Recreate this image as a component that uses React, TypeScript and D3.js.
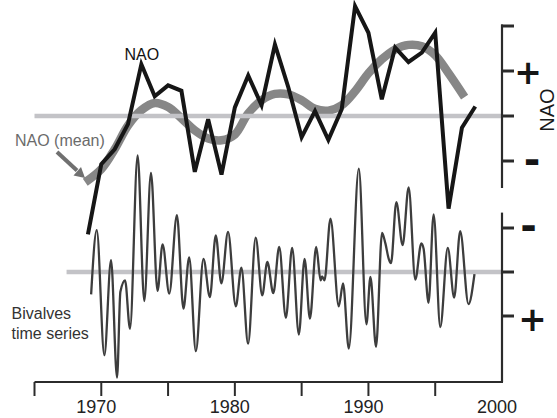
import React from 'react';
import * as d3 from 'd3';

const WIDTH = 557;
const HEIGHT = 418;

// winter NAO index, one value per year
const naoYears = [1969, 1970, 1971, 1972, 1973, 1974, 1975, 1976, 1977, 1978, 1979, 1980, 1981, 1982, 1983, 1984, 1985, 1986, 1987, 1988, 1989, 1990, 1991, 1992, 1993, 1994, 1995, 1996, 1997, 1998];
const naoValues = [-2.63, -1.07, -0.74, -0.18, 1.15, 0.44, 0.68, 0.56, -1.24, -0.07, -1.3, 0.19, 0.9, 0.24, 1.59, 0.64, -0.47, 0.11, -0.53, 0.15, 2.44, 1.85, 0.37, 1.52, 1.2, 1.41, 1.85, -2.06, -0.26, 0.21];

// smoothed NAO (thick gray curve)
const meanYears = [1968.8, 1970, 1971, 1972, 1973, 1974, 1975, 1976, 1977, 1978, 1979, 1980, 1981, 1982, 1983, 1984, 1985, 1986, 1987, 1988, 1989, 1990, 1991, 1992, 1993, 1994, 1995, 1996, 1997.2];
const meanValues = [-1.47, -1.18, -0.74, -0.21, 0.13, 0.29, 0.2, -0.05, -0.32, -0.5, -0.54, -0.41, 0.06, 0.35, 0.49, 0.48, 0.35, 0.16, 0.12, 0.24, 0.55, 0.95, 1.26, 1.48, 1.58, 1.55, 1.35, 0.95, 0.42];

// bivalve growth series (sub-annual)
const bivYears = [1969.24, 1969.66, 1970.23, 1970.73, 1971.18, 1971.43, 1971.78, 1972.15, 1972.72, 1973.22, 1973.72, 1974.21, 1974.59, 1975.09, 1975.66, 1976.15, 1976.58, 1977.08, 1977.65, 1978.13, 1978.57, 1978.99, 1979.49, 1980.07, 1980.49, 1980.99, 1981.56, 1982.05, 1982.43, 1982.88, 1983.32, 1983.82, 1984.29, 1984.79, 1985.22, 1985.62, 1986.09, 1986.42, 1986.53, 1986.71, 1987.16, 1987.78, 1988.1, 1988.53, 1989.28, 1989.85, 1990.15, 1990.57, 1991.02, 1991.27, 1991.52, 1991.69, 1992.09, 1992.56, 1993.01, 1993.51, 1993.96, 1994.13, 1994.5, 1994.88, 1995.38, 1995.94, 1996.42, 1996.87, 1997.49, 1997.94];
const bivValues = [0.51, -0.95, 1.89, -0.27, 2.4, 0.45, 0.19, 1.29, -2.65, 0.66, -2.25, 0.43, -0.63, 0.49, -1.29, 0.83, -0.33, 1.8, -0.3, 0.57, -0.83, 0.26, -0.91, 0.78, -0.1, 1.63, -0.78, 0.53, -0.23, 0.48, -0.57, 1.04, -0.55, 1.42, -0.3, 1.06, -0.57, 0.19, 0.1, 0.19, -1.21, 0.78, 0.26, 1.74, -2.35, 1.19, 0.11, 1.7, -0.89, -0.65, -0.3, -0.2, -1.59, -0.61, -1.92, 0.17, -0.65, -0.53, 0.7, -1.31, 1.25, -0.55, 0.58, -0.93, 0.73, 0.05];

const tickYears = [1965, 1970, 1975, 1980, 1985, 1990, 1995];
const labelYears = [1970, 1980, 1990, 2000];
const naoTicks = [-1, 0, 1, 2];
const bivTicks = [-1, 0, 1];

const FONT = '"Liberation Sans", Arial, sans-serif';
const AXIS = '#2b2b2b';

const App = () => {
  const ref = React.useRef<SVGSVGElement>(null);

  React.useEffect(() => {
    const svg = d3.select(ref.current);
    svg.selectAll('*').remove();

    const x = d3.scaleLinear().domain([1965, 2000]).range([34.5, 502]);
    const yNao = d3.scaleLinear().domain([-1, 2]).range([161, 26]);
    const yBiv = d3.scaleLinear().domain([-1, 1]).range([228, 316]);
    const axisY = 382;
    const rightX = x(2000);

    // zero lines
    const zeroLine = (x1, y) =>
      svg.append('line')
        .attr('x1', x1).attr('x2', rightX)
        .attr('y1', y).attr('y2', y)
        .attr('stroke', '#c3c3c7')
        .attr('stroke-width', 4.5);

    // smoothed NAO
    const meanLine = d3.line<number>()
      .x((_, i) => x(meanYears[i]))
      .y(d => yNao(d))
      .curve(d3.curveCatmullRom.alpha(0.5));
    svg.append('path')
      .attr('d', meanLine(meanValues))
      .attr('fill', 'none')
      .attr('stroke', '#878787')
      .attr('stroke-width', 8.5);

    zeroLine(x(1965), yNao(0));
    zeroLine(x(1967.4), yBiv(0));

    // bivalves
    const bivLine = d3.line<number>()
      .x((_, i) => x(bivYears[i]))
      .y(d => yBiv(d))
      .curve(d3.curveMonotoneX);
    svg.append('path')
      .attr('d', bivLine(bivValues))
      .attr('fill', 'none')
      .attr('stroke', '#3d3d3d')
      .attr('stroke-width', 2.3);

    // NAO yearly
    const naoLine = d3.line<number>()
      .x((_, i) => x(naoYears[i]))
      .y(d => yNao(d));
    svg.append('path')
      .attr('d', naoLine(naoValues))
      .attr('fill', 'none')
      .attr('stroke', '#161616')
      .attr('stroke-width', 4)
      .attr('stroke-linejoin', 'miter');

    // bottom axis
    svg.append('line')
      .attr('x1', x(1965)).attr('x2', rightX + 1)
      .attr('y1', axisY).attr('y2', axisY)
      .attr('stroke', AXIS).attr('stroke-width', 2.2);
    svg.selectAll('.xtick')
      .data(tickYears)
      .enter()
      .append('line')
      .attr('x1', d => x(d)).attr('x2', d => x(d))
      .attr('y1', axisY).attr('y2', axisY + 14)
      .attr('stroke', AXIS).attr('stroke-width', 2);
    svg.selectAll('.xlabel')
      .data(labelYears)
      .enter()
      .append('text')
      .attr('x', d => x(d) - 5)
      .attr('y', 413)
      .attr('text-anchor', 'middle')
      .style('font-family', FONT)
      .style('font-size', '18px')
      .style('fill', '#222')
      .text(d => d);

    // right axes
    const rightAxis = (y1, y2, ticks, scale) => {
      svg.append('line')
        .attr('x1', rightX).attr('x2', rightX)
        .attr('y1', y1).attr('y2', y2)
        .attr('stroke', AXIS).attr('stroke-width', 2.2);
      ticks.forEach(t => {
        svg.append('line')
          .attr('x1', rightX - 1).attr('x2', rightX + 12)
          .attr('y1', scale(t)).attr('y2', scale(t))
          .attr('stroke', AXIS).attr('stroke-width', 3);
      });
    };
    rightAxis(yNao(2) - 1.5, yNao(-1.6), naoTicks, yNao);
    rightAxis(yBiv(-1.35), axisY, bivTicks, yBiv);

    const sign = (s, cx, cy, size) =>
      svg.append('text')
        .attr('x', cx)
        .attr('y', cy + (s === '+' ? 0.34 : 0.29) * size)
        .attr('text-anchor', 'middle')
        .style('font-family', '"DejaVu Sans", sans-serif')
        .style('font-weight', 'bold')
        .style('font-size', `${size}px`)
        .style('fill', '#161616')
        .text(s);
    sign('+', 528, yNao(1) + 2, 33);
    sign('-', 532, yNao(-1) + 1.5, 40);
    sign('-', 528.5, yBiv(-1) + 0.7, 40);
    sign('+', 532.5, yBiv(1) + 3, 34);

    svg.append('text')
      .attr('transform', `translate(554, ${yNao(0) - 6}) rotate(-90)`)
      .attr('text-anchor', 'middle')
      .style('font-family', FONT)
      .style('font-size', '20px')
      .style('fill', '#1a1a1a')
      .text('NAO');

    // annotations
    svg.append('text')
      .attr('x', x(1973) + 0.5)
      .attr('y', 60)
      .attr('text-anchor', 'middle')
      .style('font-family', FONT)
      .style('font-size', '16px')
      .style('fill', '#111')
      .text('NAO');

    svg.append('text')
      .attr('x', 15)
      .attr('y', 146)
      .style('font-family', FONT)
      .style('font-size', '16px')
      .style('fill', '#6b6b6b')
      .text('NAO (mean)');

    // arrow from label to curve
    svg.append('line')
      .attr('x1', 57).attr('y1', 152)
      .attr('x2', 77).attr('y2', 170.5)
      .attr('stroke', '#707070').attr('stroke-width', 4);
    svg.append('path')
      .attr('d', 'M85,178 L73.5,175.5 L81,167 Z')
      .attr('fill', '#707070');

    const biv = svg.append('text')
      .style('font-family', FONT)
      .style('font-size', '16px')
      .style('fill', '#333');
    biv.append('tspan').attr('x', 11.5).attr('y', 319).text('Bivalves');
    biv.append('tspan').attr('x', 11.5).attr('y', 339).text('time series');
  }, []);

  return (
    <div style={{ position: 'absolute', left: 0, top: 0 }}>
      <svg ref={ref} width={WIDTH} height={HEIGHT} style={{ display: 'block', background: '#fff' }} />
    </div>
  );
};

export default App;
